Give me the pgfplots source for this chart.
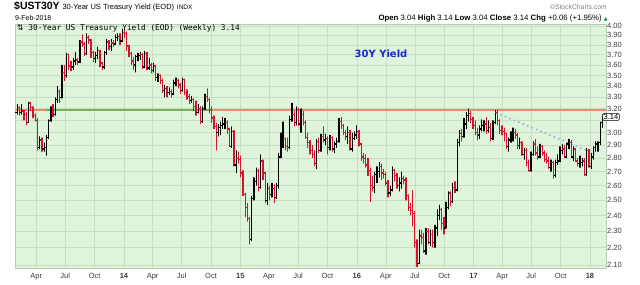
\documentclass[border=0pt]{standalone}
\usepackage{pgfplots}
\pgfplotsset{compat=1.18}
\usepackage{pgfplotstable}
\usepackage{fontspec}
\setmainfont{Liberation Sans}
\newfontfamily\dejavu{DejaVu Sans}
\newfontfamily\dejavumono{DejaVu Sans Mono}
\definecolor{bggreen}{RGB}{223,245,219}
\definecolor{gridgreen}{RGB}{198,224,188}
\definecolor{axisgray}{RGB}{185,200,185}
\definecolor{barred}{RGB}{212,20,45}
\definecolor{salmonline}{RGB}{236,140,110}
\definecolor{linegreen}{RGB}{120,175,90}
\definecolor{trendblue}{RGB}{140,180,225}
\definecolor{titleblue}{RGB}{20,40,215}
\definecolor{labelgray}{RGB}{60,60,60}
\definecolor{upgreen}{RGB}{0,150,60}
\pgfplotstableread{
k o h l c d
-1 3.17 3.24 3.15 3.21 0
0 3.21 3.22 3.14 3.17 1
1 3.17 3.24 3.15 3.18 0
2 3.18 3.19 3.10 3.15 1
3 3.15 3.17 3.06 3.08 1
4 3.08 3.26 3.08 3.25 0
5 3.25 3.26 3.18 3.21 1
6 3.21 3.22 3.12 3.14 1
7 3.14 3.16 3.09 3.10 1
8 3.10 3.12 2.86 2.88 1
9 2.88 2.97 2.87 2.94 0
10 2.94 2.96 2.85 2.87 1
11 2.87 2.92 2.85 2.88 0
12 2.88 2.98 2.82 2.96 0
13 2.96 3.11 2.95 3.10 0
14 3.10 3.22 3.09 3.16 0
15 3.16 3.24 3.13 3.15 1
16 3.15 3.30 3.14 3.28 0
17 3.28 3.40 3.25 3.35 0
18 3.35 3.37 3.25 3.30 1
19 3.30 3.60 3.29 3.53 0
20 3.53 3.60 3.45 3.50 1
21 3.50 3.72 3.48 3.70 0
22 3.70 3.71 3.55 3.59 1
23 3.59 3.64 3.54 3.58 1
24 3.58 3.67 3.55 3.64 0
25 3.64 3.73 3.60 3.65 0
26 3.65 3.67 3.60 3.63 1
27 3.63 3.85 3.62 3.83 0
28 3.83 3.91 3.78 3.81 1
29 3.81 3.83 3.69 3.71 1
30 3.71 3.92 3.70 3.88 0
31 3.88 3.90 3.81 3.85 1
32 3.85 3.86 3.67 3.72 1
33 3.72 3.74 3.63 3.66 1
34 3.66 3.73 3.62 3.69 0
35 3.69 3.78 3.66 3.74 0
36 3.74 3.75 3.58 3.62 1
37 3.62 3.63 3.55 3.58 1
38 3.58 3.74 3.56 3.72 0
39 3.72 3.86 3.70 3.83 0
40 3.83 3.85 3.75 3.78 1
41 3.78 3.86 3.74 3.82 0
42 3.82 3.85 3.78 3.81 1
43 3.81 3.91 3.80 3.88 0
44 3.88 3.92 3.84 3.89 0
45 3.89 3.92 3.80 3.84 1
46 3.84 3.97 3.83 3.93 0
47 3.93 3.97 3.87 3.92 1
48 3.92 3.94 3.74 3.79 1
49 3.79 3.80 3.68 3.71 1
50 3.71 3.73 3.60 3.64 1
51 3.64 3.68 3.55 3.60 1
52 3.60 3.70 3.53 3.68 0
53 3.68 3.72 3.64 3.69 0
54 3.69 3.73 3.65 3.70 0
55 3.70 3.72 3.56 3.58 1
56 3.58 3.74 3.57 3.71 0
57 3.71 3.73 3.55 3.57 1
58 3.57 3.67 3.55 3.60 0
59 3.60 3.62 3.52 3.55 1
60 3.55 3.62 3.53 3.59 0
61 3.59 3.60 3.45 3.48 1
62 3.48 3.52 3.44 3.50 0
63 3.50 3.51 3.42 3.45 1
64 3.45 3.47 3.34 3.36 1
65 3.36 3.41 3.30 3.38 0
66 3.38 3.40 3.30 3.34 1
67 3.34 3.39 3.32 3.35 0
68 3.35 3.37 3.30 3.33 1
69 3.33 3.46 3.32 3.43 0
70 3.43 3.48 3.40 3.45 0
71 3.45 3.47 3.38 3.41 1
72 3.41 3.43 3.33 3.36 1
73 3.36 3.48 3.35 3.46 0
74 3.46 3.47 3.32 3.34 1
75 3.34 3.37 3.28 3.31 1
76 3.31 3.33 3.24 3.27 1
77 3.27 3.31 3.25 3.28 0
78 3.28 3.29 3.18 3.22 1
79 3.22 3.27 3.14 3.17 1
80 3.17 3.24 3.16 3.20 0
81 3.20 3.22 3.07 3.09 1
82 3.09 3.22 3.08 3.20 0
83 3.20 3.33 3.19 3.31 0
84 3.31 3.38 3.26 3.28 1
85 3.28 3.29 3.16 3.19 1
86 3.19 3.22 3.08 3.12 1
87 3.12 3.14 3.03 3.05 1
88 3.05 3.08 2.86 3.00 1
89 3.00 3.07 2.97 3.04 0
90 3.04 3.09 2.98 3.06 0
91 3.06 3.13 3.03 3.07 0
92 3.07 3.12 3.03 3.08 0
93 3.08 3.10 2.99 3.03 1
94 3.03 3.04 2.89 2.89 1
95 2.89 3.05 2.88 3.01 0
96 3.01 3.02 2.74 2.75 1
97 2.75 2.86 2.69 2.80 0
98 2.80 2.85 2.76 2.79 1
99 2.79 2.82 2.66 2.69 1
100 2.69 2.71 2.53 2.54 1
101 2.54 2.55 2.39 2.45 1
102 2.45 2.48 2.36 2.38 1
103 2.38 2.39 2.22 2.25 1
104 2.25 2.53 2.24 2.51 0
105 2.51 2.66 2.50 2.63 0
106 2.63 2.73 2.60 2.71 0
107 2.71 2.72 2.56 2.59 1
108 2.59 2.83 2.58 2.78 0
109 2.78 2.79 2.64 2.69 1
110 2.69 2.70 2.48 2.50 1
111 2.50 2.62 2.47 2.58 0
112 2.58 2.60 2.50 2.54 1
113 2.54 2.62 2.52 2.58 0
114 2.58 2.61 2.48 2.52 1
115 2.52 2.62 2.51 2.60 0
116 2.60 2.84 2.58 2.81 0
117 2.81 3.00 2.80 2.92 0
118 2.92 3.09 2.88 2.95 0
119 2.95 2.96 2.86 2.89 1
120 2.89 2.96 2.85 2.88 1
121 2.88 3.14 2.87 3.11 0
122 3.11 3.25 3.09 3.15 0
123 3.15 3.18 3.05 3.08 1
124 3.08 3.22 3.06 3.19 0
125 3.19 3.21 3.05 3.07 1
126 3.07 3.20 3.00 3.15 0
127 3.15 3.18 3.06 3.08 1
128 3.08 3.10 2.95 2.96 1
129 2.96 3.00 2.88 2.92 1
130 2.92 2.94 2.83 2.86 1
131 2.86 2.90 2.80 2.83 1
132 2.83 2.86 2.74 2.76 1
133 2.76 2.95 2.72 2.93 0
134 2.93 2.96 2.84 2.86 1
135 2.86 2.99 2.85 2.97 0
136 2.97 3.05 2.92 2.94 1
137 2.94 2.99 2.90 2.95 0
138 2.95 2.97 2.83 2.88 1
139 2.88 2.98 2.86 2.96 0
140 2.96 2.97 2.85 2.87 1
141 2.87 2.93 2.84 2.91 0
142 2.91 2.96 2.88 2.93 0
143 2.93 3.12 2.92 3.09 0
144 3.09 3.13 3.03 3.06 1
145 3.06 3.07 2.98 3.00 1
146 3.00 3.02 2.94 2.97 1
147 2.97 3.05 2.91 3.00 0
148 3.00 3.02 2.86 2.87 1
149 2.87 3.00 2.85 2.95 0
150 2.95 3.01 2.94 2.98 0
151 2.98 3.06 2.95 3.01 0
152 3.01 3.02 2.89 2.91 1
153 2.91 2.92 2.78 2.81 1
154 2.81 2.84 2.76 2.80 1
155 2.80 2.83 2.73 2.75 1
156 2.75 2.80 2.67 2.71 1
157 2.71 2.73 2.49 2.60 1
158 2.60 2.67 2.56 2.59 1
159 2.59 2.70 2.55 2.68 0
160 2.68 2.74 2.62 2.70 0
161 2.70 2.77 2.66 2.74 0
162 2.74 2.76 2.64 2.69 1
163 2.69 2.72 2.65 2.68 1
164 2.68 2.70 2.60 2.62 1
165 2.62 2.64 2.52 2.55 1
166 2.55 2.60 2.53 2.57 0
167 2.57 2.74 2.56 2.71 0
168 2.71 2.72 2.63 2.67 1
169 2.67 2.69 2.58 2.60 1
170 2.60 2.66 2.56 2.62 0
171 2.62 2.70 2.58 2.65 0
172 2.65 2.67 2.61 2.64 1
173 2.64 2.66 2.50 2.53 1
174 2.53 2.54 2.43 2.45 1
175 2.45 2.48 2.40 2.43 1
176 2.43 2.57 2.33 2.41 1
177 2.41 2.43 2.20 2.23 1
178 2.23 2.25 2.09 2.11 1
179 2.11 2.31 2.11 2.27 0
180 2.27 2.31 2.22 2.26 1
181 2.26 2.29 2.17 2.18 1
182 2.18 2.32 2.16 2.30 0
183 2.30 2.32 2.22 2.23 1
184 2.23 2.31 2.21 2.28 0
185 2.28 2.31 2.20 2.23 1
186 2.23 2.34 2.20 2.32 0
187 2.32 2.44 2.27 2.40 0
188 2.40 2.47 2.37 2.44 0
189 2.44 2.45 2.31 2.35 1
190 2.35 2.39 2.28 2.32 1
191 2.32 2.49 2.32 2.45 0
192 2.45 2.56 2.44 2.55 0
193 2.55 2.56 2.46 2.49 1
194 2.49 2.62 2.48 2.59 0
195 2.59 2.63 2.55 2.57 1
196 2.57 2.95 2.56 2.92 0
197 2.92 3.02 2.89 2.99 0
198 2.99 3.03 2.93 2.97 1
199 2.97 3.12 2.96 3.07 0
200 3.07 3.17 3.03 3.14 0
201 3.14 3.20 3.09 3.16 0
202 3.16 3.18 3.08 3.11 1
203 3.11 3.13 3.03 3.06 1
204 3.06 3.10 2.98 3.00 1
205 3.00 3.04 2.94 2.98 1
206 2.98 3.06 2.95 3.03 0
207 3.03 3.11 3.01 3.06 0
208 3.06 3.10 3.01 3.07 0
209 3.07 3.13 2.99 3.02 1
210 3.02 3.10 3.00 3.04 0
211 3.04 3.08 2.93 2.95 1
212 2.95 3.10 2.94 3.08 0
213 3.08 3.19 3.07 3.17 0
214 3.17 3.19 3.06 3.10 1
215 3.10 3.11 2.99 3.02 1
216 3.02 3.06 2.98 3.01 1
217 3.01 3.04 2.93 2.99 1
218 2.99 3.00 2.87 2.89 1
219 2.89 2.96 2.85 2.94 0
220 2.94 3.01 2.92 2.96 0
221 2.96 3.04 2.93 3.00 0
222 3.00 3.03 2.95 2.98 1
223 2.98 3.00 2.87 2.90 1
224 2.90 2.96 2.87 2.92 0
225 2.92 2.93 2.82 2.83 1
226 2.83 2.88 2.79 2.86 0
227 2.86 2.88 2.74 2.77 1
228 2.77 2.79 2.70 2.71 1
229 2.71 2.85 2.70 2.83 0
230 2.83 2.93 2.82 2.91 0
231 2.91 2.95 2.82 2.84 1
232 2.84 2.89 2.79 2.81 1
233 2.81 2.91 2.80 2.89 0
234 2.89 2.90 2.82 2.84 1
235 2.84 2.86 2.77 2.79 1
236 2.79 2.84 2.76 2.78 1
237 2.78 2.81 2.72 2.73 1
238 2.73 2.79 2.70 2.77 0
239 2.77 2.78 2.65 2.67 1
240 2.67 2.79 2.66 2.77 0
241 2.77 2.83 2.75 2.78 0
242 2.78 2.89 2.77 2.86 0
243 2.86 2.91 2.83 2.87 0
244 2.87 2.90 2.80 2.81 1
245 2.81 2.92 2.80 2.91 0
246 2.91 2.95 2.87 2.92 0
247 2.92 2.94 2.80 2.81 1
248 2.81 2.89 2.78 2.87 0
249 2.87 2.88 2.77 2.78 1
250 2.78 2.80 2.74 2.76 1
251 2.76 2.82 2.73 2.77 0
252 2.77 2.80 2.74 2.78 0
253 2.78 2.80 2.67 2.68 1
254 2.68 2.88 2.67 2.86 0
255 2.86 2.87 2.73 2.74 1
256 2.74 2.84 2.72 2.81 0
257 2.81 2.89 2.79 2.88 0
258 2.88 2.93 2.85 2.91 0
259 2.91 2.93 2.85 2.92 0
260 2.92 3.09 2.90 3.08 0
261 3.08 3.15 3.04 3.14 0
}\bars
\pgfplotstablegetrowsof{\bars}
\pgfmathtruncatemacro{\lastrow}{\pgfplotsretval-1}
\begin{document}
\begin{tikzpicture}
\path[use as bounding box] (0,0) rectangle (640pt,284pt);
\fill[white] (0,0) rectangle (640pt,284pt);
\begin{axis}[
  scale only axis, width=591pt, height=244pt,
  at={(15pt,16pt)}, anchor=south west,
  xmin=-2.07, xmax=262.6,
  ymode=log, ymin=2.083, ymax=4.02,
  axis background/.style={fill=bggreen},
  axis line style={draw=axisgray},
  xtick={7.43,20.43,33.57,46.71,59.57,72.57,85.71,98.86,111.71,124.71,137.86,151,164,177,190.14,203.29,216.14,229.14,242.29,255.43},
  xticklabels={Apr,Jul,Oct,\textbf{14},Apr,Jul,Oct,\textbf{15},Apr,Jul,Oct,\textbf{16},Apr,Jul,Oct,\textbf{17},Apr,Jul,Oct,\textbf{18}},
  ytick={2.1,2.2,2.3,2.4,2.5,2.6,2.7,2.8,2.9,3.0,3.1,3.2,3.3,3.4,3.5,3.6,3.7,3.8,3.9,4.0},
  yticklabels={2.10,2.20,2.30,2.40,2.50,2.60,2.70,2.80,2.90,3.00,{},3.20,3.30,3.40,3.50,3.60,3.70,3.80,3.90,4.00},
  yticklabel pos=right,
  major tick length=0pt, minor tick num=0,
  tick label style={font=\fontsize{7.5}{8}\selectfont, text=labelgray},
  xticklabel style={yshift=-1.5pt},
  yticklabel style={inner sep=1pt, xshift=0pt},
  grid=major, grid style={gridgreen, line width=0.6pt},
  clip=true,
]
% horizontal reference line
\addplot[salmonline, line width=1.5pt] coordinates {(-2.07,3.19) (12,3.19)};
\addplot[linegreen, line width=1.5pt] coordinates {(12,3.19) (86.6,3.19)};
\addplot[salmonline, line width=1.5pt] coordinates {(86.6,3.19) (262.6,3.19)};
% trend line
\addplot[trendblue, line width=1.6pt, dash pattern=on 1.6pt off 3.2pt] coordinates {(213.3,3.166) (257.7,2.833)};
% OHLC bars, one polyline per week: open tick, high, low, close tick
\foreach \i in {0,...,\lastrow}{%
  \pgfplotstablegetelem{\i}{k}\of\bars \let\vk\pgfplotsretval
  \pgfplotstablegetelem{\i}{o}\of\bars \let\vo\pgfplotsretval
  \pgfplotstablegetelem{\i}{h}\of\bars \let\vh\pgfplotsretval
  \pgfplotstablegetelem{\i}{l}\of\bars \let\vl\pgfplotsretval
  \pgfplotstablegetelem{\i}{c}\of\bars \let\vc\pgfplotsretval
  \pgfplotstablegetelem{\i}{d}\of\bars \let\vd\pgfplotsretval
  \pgfmathsetmacro{\ka}{\vk-0.9}%
  \pgfmathsetmacro{\kb}{\vk+0.9}%
  \ifnum\vd=1 \def\bc{barred}\else\def\bc{black}\fi
  \edef\temp{\noexpand\addplot[\bc, line width=1.25pt, line join=bevel, mark=none, forget plot]
    coordinates {(\ka,\vo) (\vk,\vo) (\vk,\vh) (\vk,\vl) (\vk,\vc) (\kb,\vc)};}%
  \temp
}
\end{axis}
% header texts
\node[anchor=base west, inner sep=0pt] at (14pt,274pt)
  {{\fontsize{10.5}{12}\selectfont\bfseries \$UST30Y} {\fontsize{7.5}{9}\selectfont 30-Year US Treasury Yield (EOD)} {\fontsize{6.5}{8}\selectfont INDX}};
\node[anchor=base west, inner sep=0pt, font=\fontsize{7}{8}\selectfont] at (15pt,263pt) {9-Feb-2018};
\node[anchor=base east, inner sep=0pt, font=\fontsize{6.8}{8}\selectfont, text=gray] at (607pt,274pt) {\textcopyright StockCharts.com};
\node[anchor=base east, inner sep=0pt, font=\fontsize{7.8}{9}\selectfont] at (608pt,263pt)
  {\textbf{Open} 3.04 \textbf{High} 3.14 \textbf{Low} 3.04 \textbf{Close} 3.14 \textbf{Chg} +0.06 (+1.95\%) {\dejavu\fontsize{5}{6}\selectfont\color{upgreen}▲}};
\node[anchor=base west, inner sep=0pt, font=\fontsize{7.8}{9}\selectfont] at (17pt,253pt)
  {{\dejavu ⇅}{\dejavumono\ 30-Year US Treasury Yield (EOD) (Weekly) 3.14}};
\node[font=\dejavu\bfseries\fontsize{10}{12}\selectfont, text=titleblue] at (381pt,230pt) {30Y Yield};
\node[draw=black, fill=white, rounded corners=1.5pt, inner sep=1pt, line width=0.5pt, font=\fontsize{7.5}{8}\selectfont] at (611pt,167pt) {3.14};
\end{tikzpicture}
\end{document}
